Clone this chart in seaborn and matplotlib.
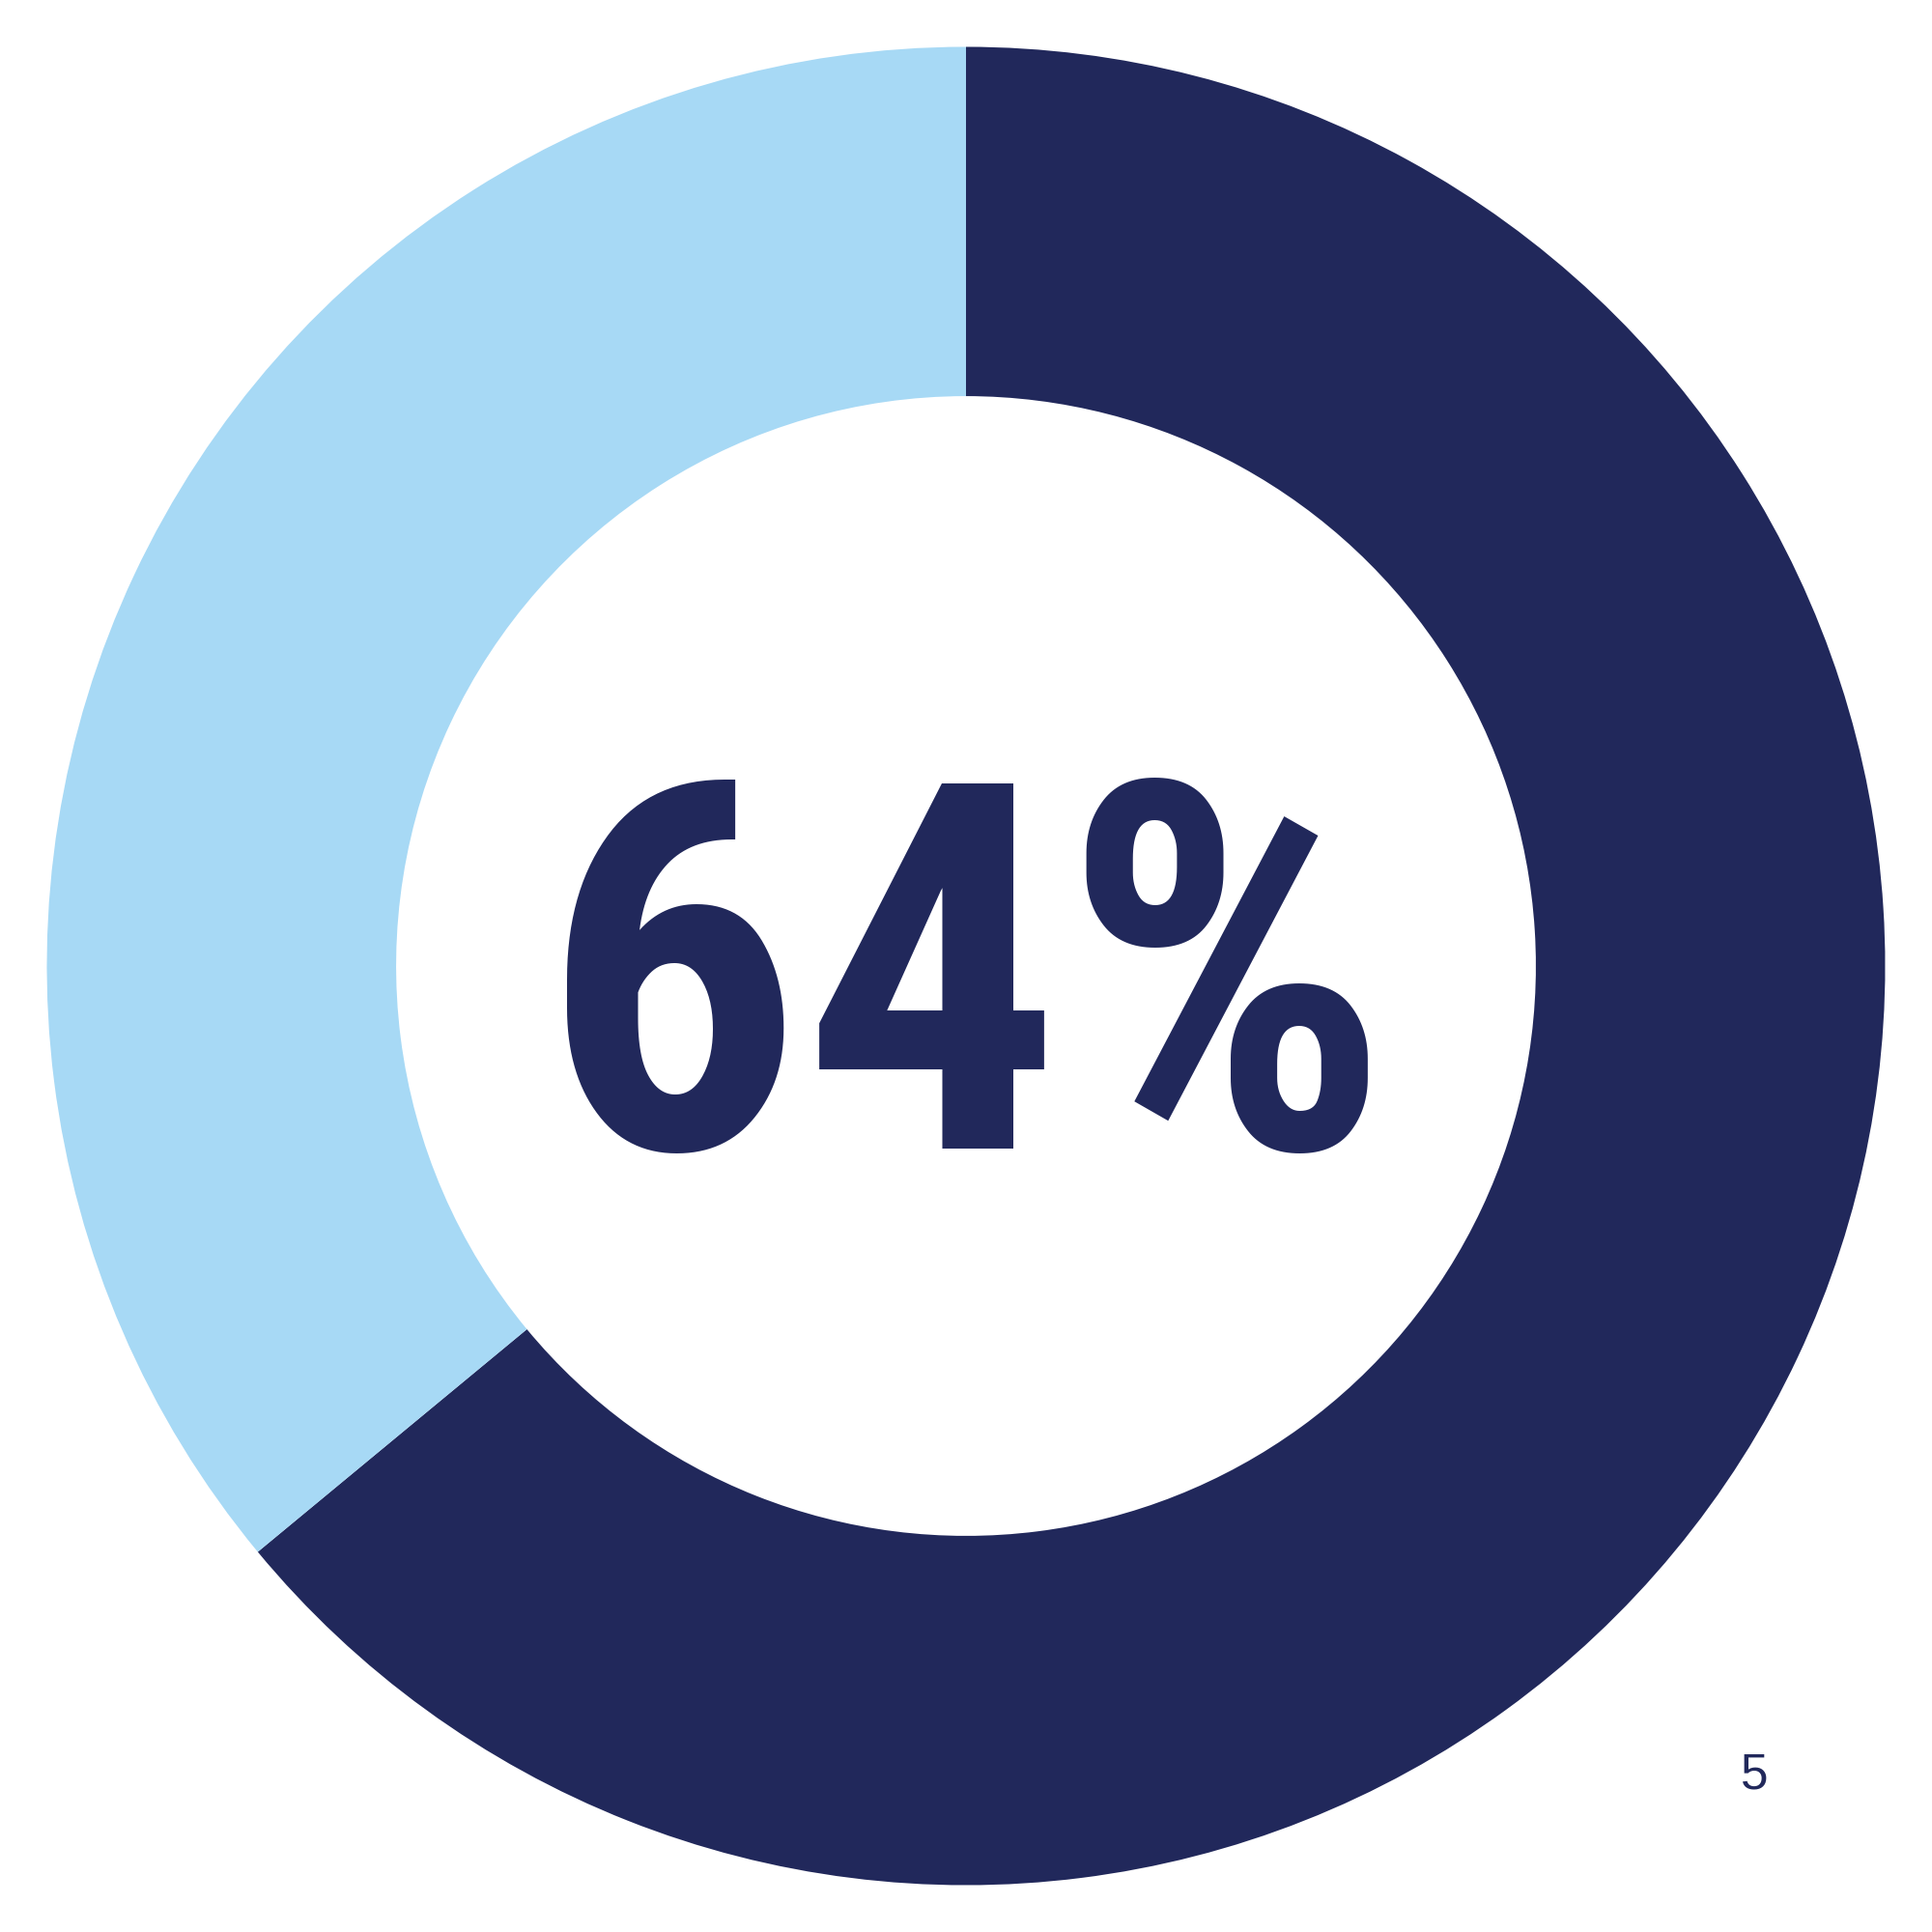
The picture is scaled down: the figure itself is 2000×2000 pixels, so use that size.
import matplotlib
matplotlib.use("Agg")
import matplotlib.pyplot as plt
from matplotlib import font_manager as fm
from matplotlib.textpath import TextPath
import seaborn as sns

# Data
labels = ["Yes", "No"]
values = [64, 36]
center_label = "64%"
page_number = "5"

colors = ["#21285B", "#A7D9F5"]

sns.set_theme(style="white")
plt.rcParams['font.family'] = ['DejaVu Sans']

DPI = 100
PX_PER_UNIT = 951.5  # outer radius in pixels


def weight_num(w):
    if isinstance(w, (int, float)):
        return int(w)
    return fm.weight_dict.get(str(w).lower(), 400)


def pick_condensed_bold():
    prefs = ["roboto condensed", "liberation sans narrow", "open sans condensed",
             "dejavu sans condensed", "noto sans condensed"]
    cands = []
    for f in fm.fontManager.ttflist:
        name = f.name.lower()
        base = f.fname.lower().split("/")[-1]
        stretch = str(f.stretch).lower()
        cond = ("condensed" in name or "narrow" in name or "condensed" in stretch
                or "cond" in base or "narrow" in base)
        if not cond:
            continue
        if "italic" in base or "oblique" in base or f.style != "normal":
            continue
        w = weight_num(f.weight)
        if w < 600:
            continue
        rank = len(prefs)
        for i, p in enumerate(prefs):
            if p in name:
                rank = i
                break
        extra = 1 if ("extracond" in base or "extra cond" in name or "ultra" in name) else 0
        cands.append((rank, extra, abs(w - 750), f.fname))
    if cands:
        cands.sort()
        return fm.FontProperties(fname=cands[0][3])
    return fm.FontProperties(family="DejaVu Sans", weight="bold")


fig = plt.figure(figsize=(20, 20), dpi=DPI)
ax = fig.add_axes([0, 0, 1, 1])
ax.pie(values, colors=colors, startangle=90, counterclock=False,
       radius=1.0, wedgeprops=dict(width=0.38, linewidth=0))
lim = 1000 / PX_PER_UNIT
ax.set_xlim(-lim, lim)
ax.set_ylim(-lim, lim)
ax.set_aspect("equal")
ax.axis("off")

# Big centre label: size it from its ink box to the reference box (~922 x 389 px)
fp = pick_condensed_bold()
ref_size = 100.0
ext = TextPath((0, 0), center_label, size=ref_size, prop=fp).get_extents()
w_px = ext.width * DPI / 72.0
h_px = ext.height * DPI / 72.0
target_w, target_h = 922.0, 389.0
scale = min(target_h / h_px, 1.1 * target_w / w_px)
fs = ref_size * scale
ext2 = TextPath((0, 0), center_label, size=fs, prop=fp).get_extents()
k = DPI / 72.0 / PX_PER_UNIT
cx, cy = 1.0 / PX_PER_UNIT, 0.0  # centre of the ink box in data units
x0 = cx - (ext2.x0 + ext2.width / 2) * k
y0 = cy - (ext2.y0 + ext2.height / 2) * k
big = fp.copy()
big.set_size(fs)
ax.text(x0, y0, center_label, ha="left", va="baseline",
        fontproperties=big, color=colors[0])

ax.text(0.858, -0.895, page_number, ha="center", va="baseline",
        fontsize=37, color=colors[0], family=['Liberation Sans', 'DejaVu Sans'])

fig.savefig("out.png", dpi=DPI, facecolor="white")
